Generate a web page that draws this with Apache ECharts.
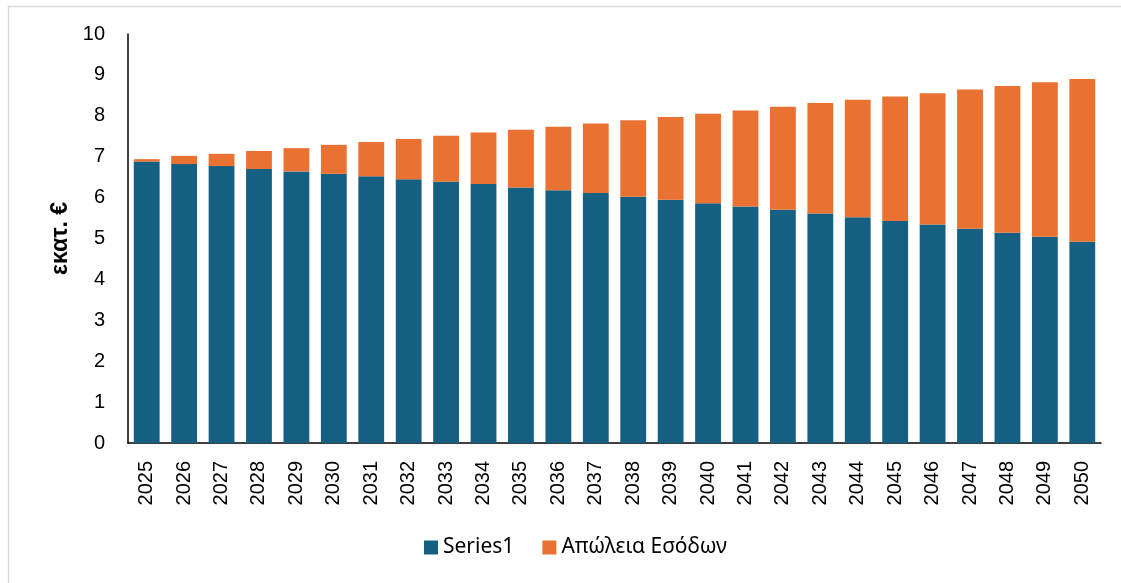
<!DOCTYPE html>
<html>
<head>
<meta charset="utf-8">
<script src="https://cdn.jsdelivr.net/npm/echarts@6/dist/echarts.min.js"></script>
<style>
html,body{margin:0;padding:0;background:#fff;}
#chart{width:1121px;height:583px;}
</style>
</head>
<body>
<div id="chart"></div>
<script>
const categories = ['2025','2026','2027','2028','2029','2030','2031','2032','2033','2034','2035','2036','2037','2038','2039','2040','2041','2042','2043','2044','2045','2046','2047','2048','2049','2050'];
const series1 = [6.88,6.82,6.77,6.70,6.64,6.58,6.52,6.45,6.39,6.33,6.25,6.18,6.11,6.02,5.95,5.86,5.78,5.70,5.61,5.52,5.43,5.34,5.24,5.14,5.04,4.92];
const revenueLoss = [0.06,0.20,0.30,0.44,0.57,0.71,0.84,0.98,1.12,1.26,1.41,1.55,1.70,1.87,2.02,2.19,2.35,2.52,2.70,2.87,3.04,3.21,3.40,3.59,3.78,3.98];
const yTicks = [0,1,2,3,4,5,6,7,8,9,10];
const seriesNames = ['Series1','Απώλεια Εσόδων'];
const yAxisTitle = 'εκατ. €';

const chart = echarts.init(document.getElementById('chart'), null, {renderer:'canvas'});
const font = 'Liberation Sans, Arial, sans-serif';
chart.setOption({
  animation:false,
  backgroundColor:'#fff',
  graphic:[{type:'rect',shape:{x:8.5,y:6.5,width:1125,height:590},style:{fill:'none',stroke:'#d9d9d9',lineWidth:1.5},silent:true}],
  grid:{left:128,right:20,top:34,bottom:140,containLabel:false},
  legend:{
    data:seriesNames,bottom:20,left:419,itemWidth:14,itemHeight:14,itemGap:28,
    icon:'rect',
    textStyle:{fontFamily:'Noto Sans, '+font,fontSize:21,color:'#000'}
  },
  xAxis:{
    type:'category',data:categories,
    axisLine:{lineStyle:{color:'#000',width:1.5}},
    axisTick:{show:false},
    axisLabel:{rotate:90,fontFamily:font,fontSize:20,color:'#000',margin:18,interval:0}
  },
  yAxis:{
    type:'value',min:yTicks[0],max:yTicks[yTicks.length-1],interval:1,
    name:yAxisTitle,nameLocation:'middle',nameGap:53,
    nameTextStyle:{fontFamily:font,fontSize:23,fontWeight:'bold',color:'#000'},
    axisLine:{show:true,lineStyle:{color:'#000',width:1.5}},
    axisTick:{show:false},
    splitLine:{show:false},
    axisLabel:{fontFamily:font,fontSize:20,color:'#000',margin:23}
  },
  series:[
    {name:seriesNames[0],type:'bar',stack:'t',data:series1,barCategoryGap:'31%',itemStyle:{color:'#156082'}},
    {name:seriesNames[1],type:'bar',stack:'t',data:revenueLoss,barCategoryGap:'31%',itemStyle:{color:'#E97132'}}
  ]
});
</script>
</body>
</html>
